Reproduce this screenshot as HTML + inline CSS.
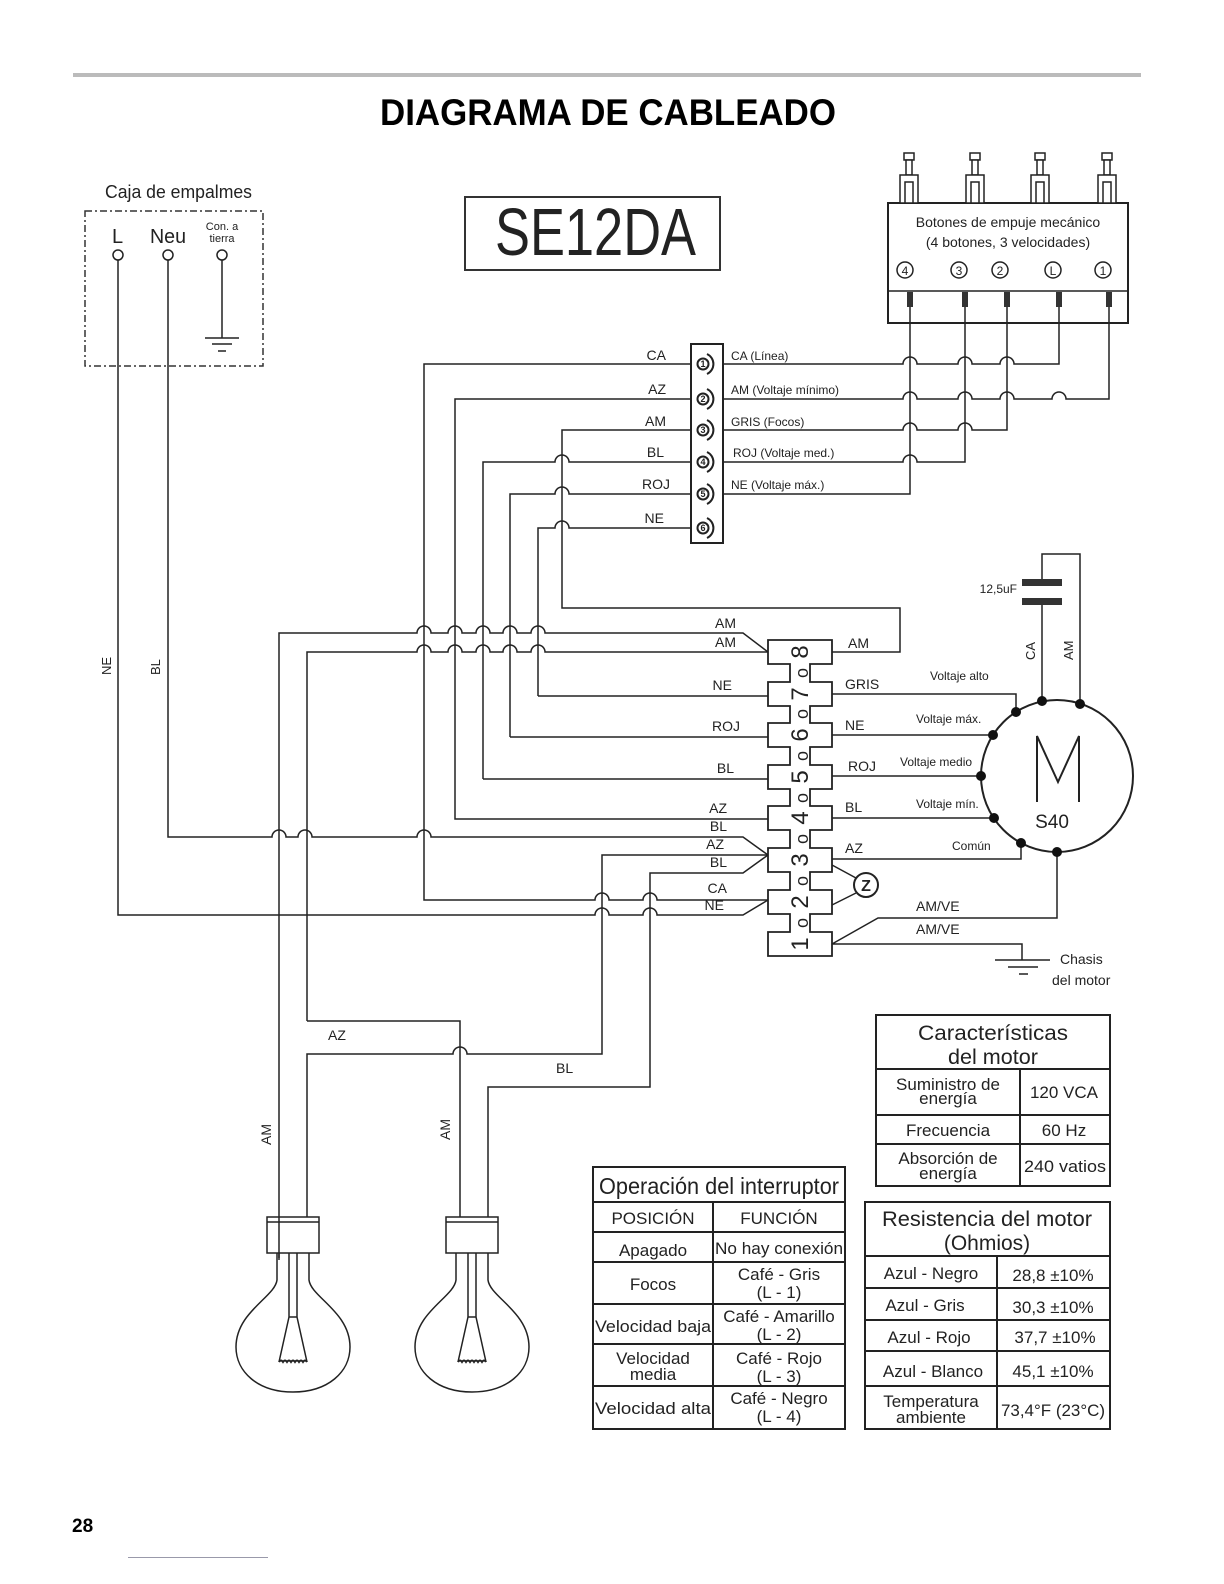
<!DOCTYPE html>
<html><head><meta charset="utf-8"><style>
html,body{margin:0;padding:0;background:#fff}
svg{display:block}
text{font-family:"Liberation Sans",sans-serif;fill:#222}
.w{fill:none;stroke:#222;stroke-width:1.5}
.t{fill:none;stroke:#222;stroke-width:2}
</style></head><body>
<svg width="1224" height="1584" viewBox="0 0 1224 1584" xmlns="http://www.w3.org/2000/svg">
<rect x="73" y="73" width="1068" height="4" fill="#bbb"/>
<text x="380" y="125" font-size="37" font-weight="bold" textLength="456" lengthAdjust="spacingAndGlyphs" style="fill:#000">DIAGRAMA DE CABLEADO</text>

<!-- junction box -->
<text x="105" y="198" font-size="18" textLength="147" lengthAdjust="spacingAndGlyphs">Caja de empalmes</text>
<rect x="85" y="211" width="178" height="155" fill="none" stroke="#333" stroke-width="1.5" stroke-dasharray="7,3,2,3"/>
<text x="112" y="243" font-size="20">L</text>
<text x="150" y="243" font-size="20" textLength="36" lengthAdjust="spacingAndGlyphs">Neu</text>
<text x="222" y="230" font-size="11" text-anchor="middle">Con. a</text>
<text x="222" y="242" font-size="11" text-anchor="middle">tierra</text>
<circle cx="118" cy="255" r="5" class="w" fill="#fff"/>
<circle cx="168" cy="255" r="5" class="w" fill="#fff"/>
<circle cx="222" cy="255" r="5" class="w" fill="#fff"/>
<path class="w" d="M222,260 V338 M205,338 H239 M212,344 H232 M218,351 H226"/>

<!-- SE12DA -->
<rect x="465" y="197" width="255" height="73" fill="none" stroke="#333" stroke-width="2"/>
<text x="495" y="255" font-size="67" textLength="201" lengthAdjust="spacingAndGlyphs">SE12DA</text>

<!-- push buttons -->
<g class="w">
<rect x="888" y="203" width="240" height="120" fill="#fff" stroke-width="2"/>
<path d="M888,291 H1128"/>
</g>
<g fill="#fff" stroke="#222" stroke-width="1.5">
<g transform="translate(909,0)"><rect x="-5" y="153" width="10" height="7"/><rect x="-3" y="160" width="6" height="15"/><rect x="-9" y="175" width="18" height="28"/><rect x="-4" y="182" width="8" height="21"/></g>
<g transform="translate(975,0)"><rect x="-5" y="153" width="10" height="7"/><rect x="-3" y="160" width="6" height="15"/><rect x="-9" y="175" width="18" height="28"/><rect x="-4" y="182" width="8" height="21"/></g>
<g transform="translate(1040,0)"><rect x="-5" y="153" width="10" height="7"/><rect x="-3" y="160" width="6" height="15"/><rect x="-9" y="175" width="18" height="28"/><rect x="-4" y="182" width="8" height="21"/></g>
<g transform="translate(1107,0)"><rect x="-5" y="153" width="10" height="7"/><rect x="-3" y="160" width="6" height="15"/><rect x="-9" y="175" width="18" height="28"/><rect x="-4" y="182" width="8" height="21"/></g>
</g>
<text x="1008" y="227" font-size="14" text-anchor="middle">Botones de empuje mecánico</text>
<text x="1008" y="247" font-size="14" text-anchor="middle">(4 botones, 3 velocidades)</text>
<g class="w"><circle cx="905" cy="270" r="8"/><circle cx="959" cy="270" r="8"/><circle cx="1000" cy="270" r="8"/><circle cx="1053" cy="270" r="8"/><circle cx="1103" cy="270" r="8"/></g>
<g font-size="12" text-anchor="middle"><text x="905" y="275">4</text><text x="959" y="275">3</text><text x="1000" y="275">2</text><text x="1053" y="275">L</text><text x="1103" y="275">1</text></g>
<g fill="#333"><rect x="907" y="292" width="6" height="15"/><rect x="962" y="292" width="6" height="15"/><rect x="1004" y="292" width="6" height="15"/><rect x="1056" y="292" width="6" height="15"/><rect x="1106" y="292" width="6" height="15"/></g>

<!-- terminal block -->
<rect x="691" y="344" width="32" height="199" fill="none" stroke="#222" stroke-width="2"/>
<g font-size="9" font-weight="bold" text-anchor="middle">
<circle cx="703" cy="364" r="5.5" class="t" stroke-width="1.6"/><text x="703" y="367">1</text>
<circle cx="703" cy="399" r="5.5" class="t" stroke-width="1.6"/><text x="703" y="402">2</text>
<circle cx="703" cy="430" r="5.5" class="t" stroke-width="1.6"/><text x="703" y="433">3</text>
<circle cx="703" cy="462" r="5.5" class="t" stroke-width="1.6"/><text x="703" y="465">4</text>
<circle cx="703" cy="494" r="5.5" class="t" stroke-width="1.6"/><text x="703" y="497">5</text>
<circle cx="703" cy="528" r="5.5" class="t" stroke-width="1.6"/><text x="703" y="531">6</text>
</g>
<g class="t"><path d="M707,354 a11,11 0 0 1 0,20"/><path d="M707,389 a11,11 0 0 1 0,20"/><path d="M707,420 a11,11 0 0 1 0,20"/><path d="M707,452 a11,11 0 0 1 0,20"/><path d="M707,484 a11,11 0 0 1 0,20"/><path d="M707,518 a11,11 0 0 1 0,20"/></g>
<g font-size="14" text-anchor="end"><text x="666" y="360">CA</text><text x="666" y="394">AZ</text><text x="666" y="426">AM</text><text x="664" y="457">BL</text><text x="670" y="489">ROJ</text><text x="664" y="523">NE</text></g>
<g font-size="12"><text x="731" y="360">CA (Línea)</text><text x="731" y="394">AM (Voltaje mínimo)</text><text x="731" y="426">GRIS (Focos)</text><text x="733" y="457">ROJ (Voltaje med.)</text><text x="731" y="489">NE (Voltaje máx.)</text></g>

<!-- wires -->
<g class="w">
<path d="M118,260 V915 H595 a7,7 0 0 1 14,0 H643 a7,7 0 0 1 14,0 H743 L768,900"/>
<path d="M168,260 V837 H272 a7,7 0 0 1 14,0 H298 a7,7 0 0 1 14,0 H417 a7,7 0 0 1 14,0 H743 L768,855"/>
<path d="M691,364 H424 V900 H595 a7,7 0 0 1 14,0 H643 a7,7 0 0 1 14,0 H768"/>
<path d="M691,399 H455 V819 H768"/>
<path d="M691,430 H562 V608 H900 V652 H832"/>
<path d="M483,779 V462 H555 a7,7 0 0 1 14,0 H691 M483,779 H768"/>
<path d="M510,737 V494 H555 a7,7 0 0 1 14,0 H691 M510,737 H768"/>
<path d="M538,696 V528 H555 a7,7 0 0 1 14,0 H691 M538,696 H768"/>
<path d="M279,1258 V633 H417 a7,7 0 0 1 14,0 H448 a7,7 0 0 1 14,0 H476 a7,7 0 0 1 14,0 H503 a7,7 0 0 1 14,0 H531 a7,7 0 0 1 14,0 H743 L768,652"/>
<path d="M307,1021 V652 H417 a7,7 0 0 1 14,0 H448 a7,7 0 0 1 14,0 H476 a7,7 0 0 1 14,0 H503 a7,7 0 0 1 14,0 H531 a7,7 0 0 1 14,0 H768"/>
<path d="M307,1021 H460 V1217"/>
<path d="M307,1217 V1054 H453 a7,7 0 0 1 14,0 H602 V855 H768"/>
<path d="M488,1217 V1087 H650 V873 H743 L768,855"/>
<path d="M723,364 H903 a7,7 0 0 1 14,0 H958 a7,7 0 0 1 14,0 H1000 a7,7 0 0 1 14,0 H1059 V307"/>
<path d="M723,399 H903 a7,7 0 0 1 14,0 H958 a7,7 0 0 1 14,0 H1000 a7,7 0 0 1 14,0 H1052 a7,7 0 0 1 14,0 H1109 V307"/>
<path d="M723,430 H903 a7,7 0 0 1 14,0 H958 a7,7 0 0 1 14,0 H1007 V307"/>
<path d="M723,462 H903 a7,7 0 0 1 14,0 H965 V307"/>
<path d="M723,494 H910 V307"/>
<path d="M832,694 H1016 V712 M832,735 H993 M832,776 H981 M832,818 H994 M832,859 H1021 V843"/>
<path d="M1057,852 V918 H878 L832,944 M832,944 H1022 V960"/>
<path d="M995,960 H1050 M1008,967 H1038 M1019,974 H1028"/>
<path d="M832,865 L856,878 M832,905 L856,893"/>
</g>
<!-- capacitor -->
<g class="w"><path d="M1042,698 V602 M1042,583 V554 H1080 V702"/></g>
<rect x="1022" y="579" width="40" height="7" fill="#333"/><rect x="1022" y="598" width="40" height="7" fill="#333"/>
<text x="1017" y="593" font-size="12" text-anchor="end">12,5uF</text>
<text transform="translate(1035,660) rotate(-90)" font-size="13">CA</text>
<text transform="translate(1073,660) rotate(-90)" font-size="13">AM</text>

<!-- connector 8 pole -->
<path fill="#fff" stroke="#222" stroke-width="1.8" d="M768,640 H832 V664 H810 V682 H832 V706 H810 V723 H832 V747 H810 V765 H832 V789 H810 V806 H832 V830 H810 V848 H832 V872 H810 V890 H832 V914 H810 V932 H832 V956 H768 V932 H790 V914 H768 V890 H790 V872 H768 V848 H790 V830 H768 V806 H790 V789 H768 V765 H790 V747 H768 V723 H790 V706 H768 V682 H790 V664 H768 Z"/>
<g font-size="24" text-anchor="middle">
<text transform="translate(808,944) rotate(-90)">1</text><text transform="translate(808,923) rotate(-90)" font-size="18">o</text>
<text transform="translate(808,902) rotate(-90)">2</text><text transform="translate(808,881) rotate(-90)" font-size="18">o</text>
<text transform="translate(808,860) rotate(-90)">3</text><text transform="translate(808,839) rotate(-90)" font-size="18">o</text>
<text transform="translate(808,818) rotate(-90)">4</text><text transform="translate(808,798) rotate(-90)" font-size="18">o</text>
<text transform="translate(808,777) rotate(-90)">5</text><text transform="translate(808,756) rotate(-90)" font-size="18">o</text>
<text transform="translate(808,735) rotate(-90)">6</text><text transform="translate(808,714) rotate(-90)" font-size="18">o</text>
<text transform="translate(808,694) rotate(-90)">7</text><text transform="translate(808,673) rotate(-90)" font-size="18">o</text>
<text transform="translate(808,652) rotate(-90)">8</text>
</g>
<circle cx="866" cy="885" r="12" fill="#fff" stroke="#222" stroke-width="2"/>
<text x="866" y="891" font-size="16" font-weight="bold" text-anchor="middle">Z</text>
<g font-size="14" text-anchor="end">
<text x="736" y="628">AM</text><text x="736" y="647">AM</text><text x="732" y="690">NE</text><text x="740" y="731">ROJ</text><text x="734" y="773">BL</text>
<text x="727" y="813">AZ</text><text x="727" y="831">BL</text><text x="724" y="849">AZ</text><text x="727" y="867">BL</text><text x="727" y="893">CA</text><text x="724" y="910">NE</text>
</g>
<g font-size="14">
<text x="848" y="648">AM</text><text x="845" y="689">GRIS</text><text x="845" y="730">NE</text><text x="848" y="771">ROJ</text><text x="845" y="812">BL</text><text x="845" y="853">AZ</text>
<text x="916" y="911">AM/VE</text><text x="916" y="934">AM/VE</text>
</g>
<g font-size="12"><text x="930" y="680">Voltaje alto</text><text x="916" y="723">Voltaje máx.</text><text x="900" y="766">Voltaje medio</text><text x="916" y="808">Voltaje mín.</text><text x="952" y="850">Común</text></g>
<text x="1060" y="964" font-size="14">Chasis</text>
<text x="1052" y="985" font-size="14">del motor</text>

<!-- motor -->
<circle cx="1057" cy="776" r="76" fill="none" stroke="#222" stroke-width="2"/>
<path class="t" d="M1037,802 V736 L1058,782 L1079,736 V802"/>
<text x="1052" y="828" font-size="19" text-anchor="middle">S40</text>
<g fill="#111"><circle cx="1042" cy="701" r="5"/><circle cx="1080" cy="704" r="5"/><circle cx="1016" cy="712" r="5"/><circle cx="993" cy="735" r="5"/><circle cx="981" cy="776" r="5"/><circle cx="994" cy="818" r="5"/><circle cx="1021" cy="843" r="5"/><circle cx="1057" cy="852" r="5"/></g>

<!-- side labels -->
<text transform="translate(111,675) rotate(-90)" font-size="13">NE</text>
<text transform="translate(160,675) rotate(-90)" font-size="13">BL</text>
<text x="328" y="1040" font-size="14">AZ</text>
<text x="556" y="1073" font-size="14">BL</text>
<text transform="translate(271,1145) rotate(-90)" font-size="14">AM</text>
<text transform="translate(450,1140) rotate(-90)" font-size="14">AM</text>

<!-- lamps -->
<g class="w" stroke-width="1.8">
<g transform="translate(293,0)">
<rect x="-26" y="1217" width="52" height="36" fill="#fff"/><path d="M-26,1222 H26"/>
<path d="M-16,1253 V1280 C-18,1297 -57,1312 -57,1347 C-57,1372 -35,1392 0,1392 C35,1392 57,1372 57,1347 C57,1312 18,1297 16,1280 V1253"/>
<path d="M-4,1253 V1317 M4,1253 V1317 M-4,1317 H4 M-4,1317 L-14,1362 M4,1317 L14,1362"/>
<path d="M-14,1362 q2,-3 4,0 q2,-3 4,0 q2,-3 4,0 q2,-3 4,0 q2,-3 4,0 q2,-3 4,0 q2,-3 4,0" stroke-width="2"/>
</g>
<g transform="translate(472,0)">
<rect x="-26" y="1217" width="52" height="36" fill="#fff"/><path d="M-26,1222 H26"/>
<path d="M-16,1253 V1280 C-18,1297 -57,1312 -57,1347 C-57,1372 -35,1392 0,1392 C35,1392 57,1372 57,1347 C57,1312 18,1297 16,1280 V1253"/>
<path d="M-4,1253 V1317 M4,1253 V1317 M-4,1317 H4 M-4,1317 L-14,1362 M4,1317 L14,1362"/>
<path d="M-14,1362 q2,-3 4,0 q2,-3 4,0 q2,-3 4,0 q2,-3 4,0 q2,-3 4,0 q2,-3 4,0 q2,-3 4,0" stroke-width="2"/>
</g>
<path d="M279,1217 V1260"/>
</g>

<!-- Caracteristicas table -->
<g fill="none" stroke="#222" stroke-width="2">
<rect x="876" y="1015" width="234" height="171"/>
<path d="M876,1069 H1110 M876,1115 H1110 M876,1144 H1110 M1020,1069 V1186"/>
</g>
<g font-size="21" text-anchor="middle">
<text x="993" y="1040" textLength="150" lengthAdjust="spacingAndGlyphs">Características</text>
<text x="993" y="1064" textLength="90" lengthAdjust="spacingAndGlyphs">del motor</text>
</g>
<g font-size="17" text-anchor="middle">
<text x="948" y="1090">Suministro de</text><text x="948" y="1104">energía</text>
<text x="1064" y="1098">120 VCA</text>
<text x="948" y="1136">Frecuencia</text><text x="1064" y="1136">60 Hz</text>
<text x="948" y="1164">Absorción de</text><text x="948" y="1179">energía</text>
<text x="1065" y="1172" textLength="82" lengthAdjust="spacingAndGlyphs">240 vatios</text>
</g>

<!-- Operacion table -->
<g fill="none" stroke="#222" stroke-width="2">
<rect x="593" y="1167" width="252" height="262"/>
<path d="M593,1202 H845 M593,1232 H845 M593,1262 H845 M593,1304 H845 M593,1344 H845 M593,1386 H845 M713,1202 V1429"/>
</g>
<text x="719" y="1194" font-size="23" text-anchor="middle" textLength="240" lengthAdjust="spacingAndGlyphs">Operación del interruptor</text>
<g font-size="17" text-anchor="middle">
<text x="653" y="1224">POSICIÓN</text><text x="779" y="1224">FUNCIÓN</text>
<text x="653" y="1256">Apagado</text><text x="779" y="1254" textLength="128" lengthAdjust="spacingAndGlyphs">No hay conexión</text>
<text x="653" y="1290">Focos</text><text x="779" y="1280">Café - Gris</text><text x="779" y="1298">(L - 1)</text>
<text x="653" y="1332" textLength="116" lengthAdjust="spacingAndGlyphs">Velocidad baja</text><text x="779" y="1322">Café - Amarillo</text><text x="779" y="1340">(L - 2)</text>
<text x="653" y="1364">Velocidad</text><text x="653" y="1380">media</text><text x="779" y="1364">Café - Rojo</text><text x="779" y="1382">(L - 3)</text>
<text x="653" y="1414" textLength="116" lengthAdjust="spacingAndGlyphs">Velocidad alta</text><text x="779" y="1404">Café - Negro</text><text x="779" y="1422">(L - 4)</text>
</g>

<!-- Resistencia table -->
<g fill="none" stroke="#222" stroke-width="2">
<rect x="865" y="1202" width="245" height="227"/>
<path d="M865,1256 H1110 M865,1288 H1110 M865,1320 H1110 M865,1351 H1110 M865,1386 H1110 M997,1256 V1429"/>
</g>
<g font-size="21" text-anchor="middle">
<text x="987" y="1226" textLength="210" lengthAdjust="spacingAndGlyphs">Resistencia del  motor</text>
<text x="987" y="1250">(Ohmios)</text>
</g>
<g font-size="17" text-anchor="middle">
<text x="931" y="1279">Azul - Negro</text><text x="1053" y="1281">28,8 ±10%</text>
<text x="925" y="1311">Azul - Gris</text><text x="1053" y="1313">30,3 ±10%</text>
<text x="929" y="1343">Azul - Rojo</text><text x="1055" y="1343">37,7 ±10%</text>
<text x="933" y="1377">Azul - Blanco</text><text x="1053" y="1377">45,1 ±10%</text>
<text x="931" y="1407">Temperatura</text><text x="931" y="1423">ambiente</text>
<text x="1053" y="1416" textLength="104" lengthAdjust="spacingAndGlyphs">73,4°F (23°C)</text>
</g>

<text x="72" y="1532" font-size="19" font-weight="bold" style="fill:#000">28</text>
<rect x="128" y="1557" width="140" height="1" fill="#99a"/>
</svg>
</body></html>
